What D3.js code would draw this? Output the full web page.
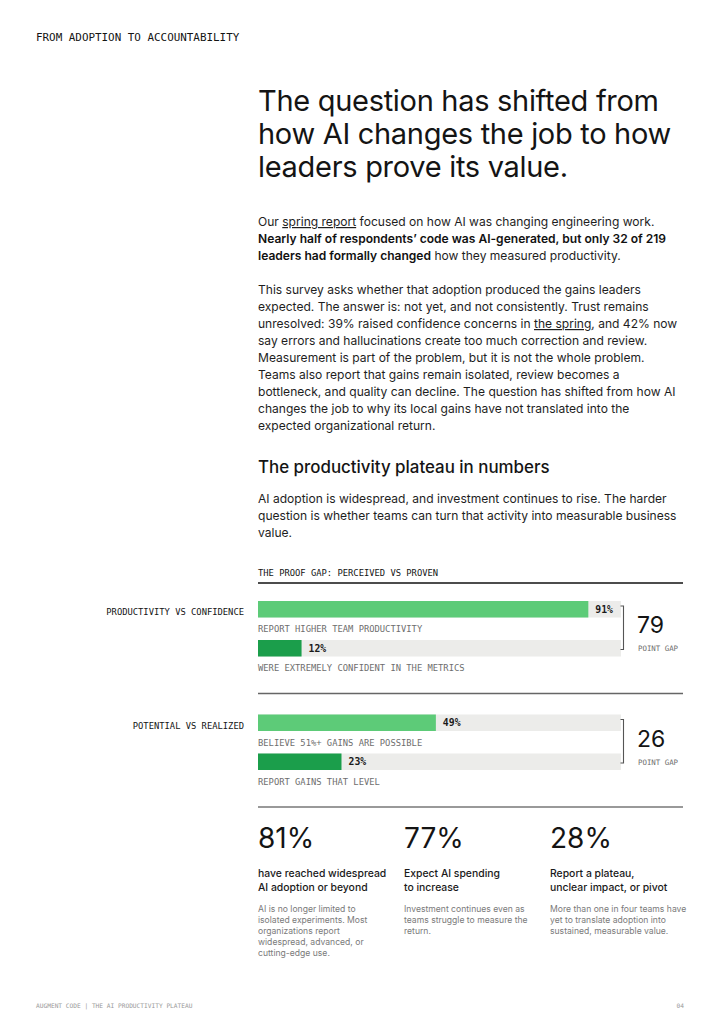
<!DOCTYPE html>
<html>
<head>
<meta charset="utf-8">
<script src="https://cdn.jsdelivr.net/npm/d3@7"></script>
<style>
  html, body { margin: 0; padding: 0; background: #ffffff; }
  svg { display: block; }
  .sans { font-family: Inter, "Noto Sans", sans-serif; }
  .mono { font-family: "DejaVu Sans Mono", "Liberation Mono", monospace; }
</style>
</head>
<body>
<div id="chart"></div>
<script>
// ---------- DATA ----------
const kicker = "FROM ADOPTION TO ACCOUNTABILITY";
const titleLines = ["The question has shifted from", "how AI changes the job to how", "leaders prove its value."];
const para1 = [
  [{t: "Our "}, {t: "spring report", u: true}, {t: " focused on how AI was changing engineering work."}],
  [{t: "Nearly half of respondents\u2019 code was AI-generated, but only 32 of 219", b: true}],
  [{t: "leaders had formally changed", b: true}, {t: " how they measured productivity."}]
];
const para2 = [
  [{t: "This survey asks whether that adoption produced the gains leaders"}],
  [{t: "expected. The answer is: not yet, and not consistently. Trust remains"}],
  [{t: "unresolved: 39% raised confidence concerns in "}, {t: "the spring", u: true}, {t: ", and 42% now"}],
  [{t: "say errors and hallucinations create too much correction and review."}],
  [{t: "Measurement is part of the problem, but it is not the whole problem."}],
  [{t: "Teams also report that gains remain isolated, review becomes a"}],
  [{t: "bottleneck, and quality can decline. The question has shifted from how AI"}],
  [{t: "changes the job to why its local gains have not translated into the"}],
  [{t: "expected organizational return."}]
];
const subhead = "The productivity plateau in numbers";
const para3 = [
  [{t: "AI adoption is widespread, and investment continues to rise. The harder"}],
  [{t: "question is whether teams can turn that activity into measurable business"}],
  [{t: "value."}]
];
const chartTitle = "THE PROOF GAP: PERCEIVED VS PROVEN";
const groupNames = ["PRODUCTIVITY VS CONFIDENCE", "POTENTIAL VS REALIZED"];
const perceivedValues = [91, 49];
const perceivedLabels = ["REPORT HIGHER TEAM PRODUCTIVITY", "BELIEVE 51%+ GAINS ARE POSSIBLE"];
const provenValues = [12, 23];
const provenLabels = ["WERE EXTREMELY CONFIDENT IN THE METRICS", "REPORT GAINS THAT LEVEL"];
const gapValues = [79, 26];
const gapLabel = "POINT GAP";
const statValues = ["81%", "77%", "28%"];
const statTitles = [
  ["have reached widespread", "AI adoption or beyond"],
  ["Expect AI spending", "to increase"],
  ["Report a plateau,", "unclear impact, or pivot"]
];
const statDescs = [
  ["AI is no longer limited to", "isolated experiments. Most", "organizations report", "widespread, advanced, or", "cutting-edge use."],
  ["Investment continues even as", "teams struggle to measure the", "return."],
  ["More than one in four teams have", "yet to translate adoption into", "sustained, measurable value."]
];
const footerLeft = "AUGMENT CODE | THE AI PRODUCTIVITY PLATEAU";
const footerRight = "04";

// ---------- DRAW ----------
const W = 720, H = 1019;
const L = 258, R = 683;
const svg = d3.select("#chart").append("svg").attr("width", W).attr("height", H);

const ink = "#141414";

svg.append("text").attr("class", "mono").attr("x", 36).attr("y", 41)
  .attr("font-size", 10.9).attr("fill", ink).text(kicker);

svg.append("g").selectAll("text").data(titleLines).join("text")
  .attr("class", "sans").attr("x", L).attr("y", (d, i) => 110.5 + i * 33.2)
  .attr("font-size", 29).attr("font-weight", 400).attr("fill", ink)
  .attr("letter-spacing", -0.3).text(d => d);

function rich(lines, y0, lh, size) {
  const g = svg.append("g");
  lines.forEach((segs, i) => {
    const t = g.append("text").attr("class", "sans").attr("x", L).attr("y", y0 + i * lh)
      .attr("font-size", size).attr("fill", "#1e1e1e");
    segs.forEach(s => {
      const ts = t.append("tspan").text(s.t);
      if (s.b) ts.attr("font-weight", 600).attr("fill", "#111");
      if (s.u) ts.style("text-decoration", "underline");
    });
  });
}
const bodySize = 12.05;
rich(para1, 226, 17, bodySize);
rich(para2, 294, 17, bodySize);

svg.append("text").attr("class", "sans").attr("x", L).attr("y", 473)
  .attr("font-size", 16.9).attr("font-weight", 500).attr("fill", ink).text(subhead);
rich(para3, 502.5, 17, bodySize);

svg.append("text").attr("class", "mono").attr("x", L).attr("y", 576)
  .attr("font-size", 8.8).attr("fill", ink).text(chartTitle);
svg.append("line").attr("x1", L).attr("x2", R).attr("y1", 583).attr("y2", 583)
  .attr("stroke", "#111").attr("stroke-width", 1.5);

// Bars
const x = d3.scaleLinear().domain([0, 100]).range([L, 621]);
const groupTop = d3.scaleLinear().domain([0, 1]).range([601, 714.5]);
const barH = 16.5, gap2 = 39;

groupNames.forEach((name, i) => {
  const y1 = groupTop(i), y2 = y1 + gap2;
  const g = svg.append("g");
  g.append("text").attr("class", "mono").attr("x", 244).attr("y", y1 + 14)
    .attr("text-anchor", "end").attr("font-size", 8.8).attr("fill", ink).text(name);
  [[perceivedValues[i], perceivedLabels[i], y1, "#5dcb78"], [provenValues[i], provenLabels[i], y2, "#1b9e4b"]]
    .forEach(([v, lab, y, col]) => {
      g.append("rect").attr("x", x(0)).attr("y", y).attr("width", x(100) - x(0)).attr("height", barH).attr("fill", "#ececea");
      g.append("rect").attr("x", x(0)).attr("y", y).attr("width", x(v) - x(0)).attr("height", barH).attr("fill", col);
      g.append("text").attr("class", "mono").attr("x", x(v) + 7).attr("y", y + barH / 2 + 3.5)
        .attr("font-size", 9.8).attr("font-weight", 700).attr("fill", "#1a1a1a").text(v + "%");
      g.append("text").attr("class", "mono").attr("x", L).attr("y", y + 31)
        .attr("font-size", 8.8).attr("fill", "#6e6e6e").text(lab);
    });
  // bracket
  const bx = 623.5, bt = y1 + 5, bb = y2 + barH - 7;
  g.append("path").attr("d", `M${bx - 3},${bt}H${bx}V${bb}H${bx - 3}`)
    .attr("fill", "none").attr("stroke", "#555").attr("stroke-width", 1.1);
  g.append("text").attr("class", "sans").attr("x", 637).attr("y", y1 + 32)
    .attr("font-size", 23).attr("font-weight", 400).attr("fill", ink).text(gapValues[i]);
  g.append("text").attr("class", "mono").attr("x", 638).attr("y", y1 + 50)
    .attr("font-size", 7.4).attr("fill", "#6e6e6e").text(gapLabel);
  // divider below
  g.append("line").attr("x1", L).attr("x2", R).attr("y1", y2 + barH + 37).attr("y2", y2 + barH + 37)
    .attr("stroke", i === groupNames.length - 1 ? "#777" : "#666").attr("stroke-width", 1.5);
});

// Stats
const colX = d3.scalePoint().domain(d3.range(statValues.length)).range([258, 550]);
statValues.forEach((v, i) => {
  const g = svg.append("g");
  g.append("text").attr("class", "sans").attr("x", colX(i)).attr("y", 848)
    .attr("font-size", 28).attr("font-weight", 400).attr("fill", ink).text(v);
  statTitles[i].forEach((t, j) => g.append("text").attr("class", "sans").attr("x", colX(i)).attr("y", 877 + j * 14)
    .attr("font-size", 10.4).attr("font-weight", 500).attr("fill", "#1a1a1a").text(t));
  statDescs[i].forEach((t, j) => g.append("text").attr("class", "sans").attr("x", colX(i)).attr("y", 911.5 + j * 11)
    .attr("font-size", 8.6).attr("fill", "#7a7a7a").text(t));
});

svg.append("text").attr("class", "mono").attr("x", 36).attr("y", 1008)
  .attr("font-size", 6.2).attr("fill", "#999").text(footerLeft);
svg.append("text").attr("class", "mono").attr("x", 684).attr("y", 1008).attr("text-anchor", "end")
  .attr("font-size", 6.2).attr("fill", "#999").text(footerRight);
</script>
</body>
</html>
